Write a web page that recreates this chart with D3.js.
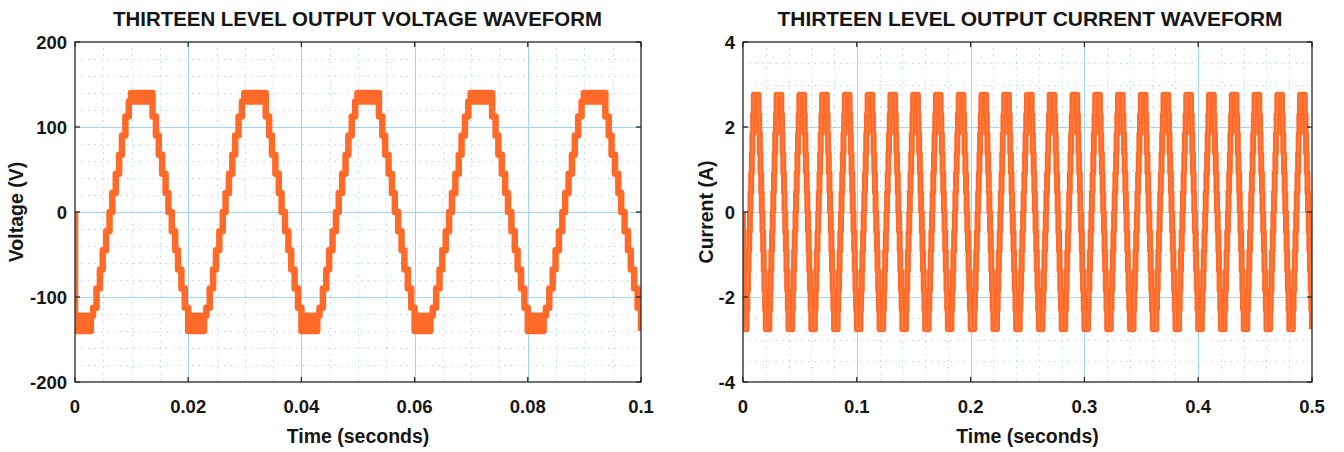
<!DOCTYPE html>
<html>
<head>
<meta charset="utf-8">
<script src="https://cdn.jsdelivr.net/npm/d3@7"></script>
<style>
  html, body { margin: 0; padding: 0; background: #ffffff; }
  svg { display: block; font-family: "Liberation Sans", Arial, Helvetica, sans-serif; }
</style>
</head>
<body>
<svg id="chart" width="1344" height="452"></svg>
<script>
// ---------------- DATA ----------------
// Voltage panel
const voltTitle = "THIRTEEN LEVEL OUTPUT VOLTAGE WAVEFORM";
const voltXLabel = "Time (seconds)";
const voltYLabel = "Voltage (V)";
const voltXTicks = [0, 0.02, 0.04, 0.06, 0.08, 0.1];
const voltXTickLabels = ["0", "0.02", "0.04", "0.06", "0.08", "0.1"];
const voltYTicks = [-200, -100, 0, 100, 200];
const voltYTickLabels = ["-200", "-100", "0", "100", "200"];
const voltXMinor = [0.005, 0.01, 0.015, 0.025, 0.03, 0.035, 0.045, 0.05, 0.055, 0.065, 0.07, 0.075, 0.085, 0.09, 0.095];
const voltYMinor = [-180, -160, -140, -120, -80, -60, -40, -20, 20, 40, 60, 80, 120, 140, 160, 180];
// start time of each 50 Hz cycle shown
const voltCycleStarts = [0, 0.02, 0.04, 0.06, 0.08];
// one cycle of the 13-level staircase: step start time (s, offset inside cycle) and level (V)
const voltStepTime = [0.0000, 0.0004, 0.0008, 0.0012, 0.0016, 0.0020, 0.0024, 0.0028,
  0.0032, 0.0038, 0.0044, 0.0049, 0.0055, 0.0061, 0.0066, 0.0072, 0.0078, 0.0083, 0.0089,
  0.0095, 0.0099, 0.0103, 0.0107, 0.0111, 0.0115, 0.0119, 0.0123, 0.0127, 0.0131,
  0.0137, 0.0143, 0.0148, 0.0154, 0.0160, 0.0165, 0.0171, 0.0177, 0.0182, 0.0188, 0.0194];
const voltStepValue = [-140, -122, -140, -122, -140, -122, -140, -122,
  -112.5, -90, -67.5, -45, -22.5, 0, 22.5, 45, 67.5, 90, 112.5,
  130, 140, 130, 140, 130, 140, 130, 140, 130, 140,
  112.5, 90, 67.5, 45, 22.5, 0, -22.5, -45, -67.5, -90, -112.5];
const voltStart = [0, 0];       // trace begins at (0 s, 0 V)
const voltEnd = [0.1, -140];    // trace ends at (0.1 s, -140 V)

// Current panel
const currTitle = "THIRTEEN LEVEL OUTPUT CURRENT WAVEFORM";
const currXLabel = "Time (seconds)";
const currYLabel = "Current (A)";
const currXTicks = [0, 0.1, 0.2, 0.3, 0.4, 0.5];
const currXTickLabels = ["0", "0.1", "0.2", "0.3", "0.4", "0.5"];
const currYTicks = [-4, -2, 0, 2, 4];
const currYTickLabels = ["-4", "-2", "0", "2", "4"];
const currXMinor = [0.02, 0.04, 0.06, 0.08, 0.12, 0.14, 0.16, 0.18, 0.22, 0.24, 0.26, 0.28,
  0.32, 0.34, 0.36, 0.38, 0.42, 0.44, 0.46, 0.48];
const currYMinor = [-3.5, -3, -2.5, -1.5, -1, -0.5, 0.5, 1, 1.5, 2.5, 3, 3.5];
const currCycleStarts = [0, 0.02, 0.04, 0.06, 0.08, 0.10, 0.12, 0.14, 0.16, 0.18,
  0.20, 0.22, 0.24, 0.26, 0.28, 0.30, 0.32, 0.34, 0.36, 0.38,
  0.40, 0.42, 0.44, 0.46, 0.48];
const currStepTime = [0.0000,
  0.0032, 0.0038, 0.0044, 0.0049, 0.0055, 0.0061, 0.0066, 0.0072, 0.0078, 0.0083, 0.0089,
  0.0095,
  0.0137, 0.0143, 0.0148, 0.0154, 0.0160, 0.0165, 0.0171, 0.0177, 0.0182, 0.0188, 0.0194];
const currStepValue = [-2.76,
  -2.3, -1.84, -1.38, -0.92, -0.46, 0, 0.46, 0.92, 1.38, 1.84, 2.3,
  2.76,
  2.3, 1.84, 1.38, 0.92, 0.46, 0, -0.46, -0.92, -1.38, -1.84, -2.3];
const currStart = [0, 0];
const currEnd = [0.5, -2.76];

// ---------------- DRAWING ----------------
const svg = d3.select("#chart");
const orange = "#ff6a28";
const textColor = "#161616";

function buildTrace(start, cycles, stepT, stepV, end) {
  const pts = [{t: start[0], v: start[1]}];
  cycles.forEach(c => {
    stepT.forEach((dt, i) => pts.push({t: c + dt, v: stepV[i]}));
  });
  pts.push({t: end[0], v: end[1]});
  return pts;
}

function panel(cfg, id) {
  const x = d3.scaleLinear().domain(cfg.xDomain).range(cfg.xRange);
  const y = d3.scaleLinear().domain(cfg.yDomain).range(cfg.yRange);
  const [x0, x1] = cfg.xRange, [y0, y1] = cfg.yRange; // y0 bottom, y1 top
  const g = svg.append("g");

  g.append("rect").attr("x", x0).attr("y", y1).attr("width", x1 - x0).attr("height", y0 - y1)
    .attr("fill", "#ffffff");

  // minor grid (dotted)
  const minor = g.append("g").attr("stroke", "#9fd0f6").attr("stroke-width", 1)
    .attr("stroke-dasharray", "1.2,5.3");
  minor.selectAll("line.mx").data(cfg.xMinor).join("line")
    .attr("x1", d => Math.round(x(d)) + 0.5).attr("x2", d => Math.round(x(d)) + 0.5)
    .attr("y1", y1).attr("y2", y0);
  minor.selectAll("line.my").data(cfg.yMinor).join("line")
    .attr("y1", d => Math.round(y(d)) + 0.5).attr("y2", d => Math.round(y(d)) + 0.5)
    .attr("x1", x0).attr("x2", x1);

  // major grid
  const major = g.append("g").attr("stroke", "#a3d3f7").attr("stroke-width", 1);
  major.selectAll("line.gx").data(cfg.xTicks.slice(1, -1)).join("line")
    .attr("x1", d => Math.round(x(d)) + 0.5).attr("x2", d => Math.round(x(d)) + 0.5)
    .attr("y1", y1).attr("y2", y0);
  major.selectAll("line.gy").data(cfg.yTicks.slice(1, -1)).join("line")
    .attr("y1", d => Math.round(y(d)) + 0.5).attr("y2", d => Math.round(y(d)) + 0.5)
    .attr("x1", x0).attr("x2", x1);

  // trace
  svg.append("clipPath").attr("id", id).append("rect")
    .attr("x", x0).attr("y", y1).attr("width", x1 - x0).attr("height", y0 - y1);
  const line = d3.line().x(d => x(d.t)).y(d => y(d.v)).curve(d3.curveStepAfter);
  const tg = g.append("g").attr("clip-path", `url(#${id})`);
  tg.append("path").datum(cfg.trace).attr("d", line)
    .attr("fill", "none").attr("stroke", orange).attr("stroke-width", cfg.lw)
    .attr("stroke-linejoin", "round").attr("stroke-linecap", "butt");
  if (cfg.inner) {
    tg.append("path").datum(cfg.trace).attr("d", line)
      .attr("fill", "none").attr("stroke", "#ffa070").attr("stroke-width", 1)
      .attr("stroke-opacity", 0.5);
  }

  // box + ticks
  const axG = g.append("g").attr("stroke", "#262626").attr("stroke-width", 1.3).attr("fill", "none");
  axG.append("rect").attr("x", x0).attr("y", y1).attr("width", x1 - x0).attr("height", y0 - y1);
  const tl = 5;
  cfg.xTicks.forEach(d => {
    const px = x(d);
    axG.append("line").attr("x1", px).attr("x2", px).attr("y1", y0).attr("y2", y0 - tl);
    axG.append("line").attr("x1", px).attr("x2", px).attr("y1", y1).attr("y2", y1 + tl);
  });
  cfg.yTicks.forEach(d => {
    const py = y(d);
    axG.append("line").attr("x1", x0).attr("x2", x0 + tl).attr("y1", py).attr("y2", py);
    axG.append("line").attr("x1", x1).attr("x2", x1 - tl).attr("y1", py).attr("y2", py);
  });

  // tick labels
  const txt = g.append("g").attr("fill", textColor).attr("font-weight", "bold");
  txt.selectAll("text.xl").data(cfg.xTicks).join("text")
    .attr("x", d => x(d)).attr("y", y0 + 31).attr("text-anchor", "middle")
    .attr("font-size", 18.5).text((d, i) => cfg.xTickLabels[i]);
  txt.selectAll("text.yl").data(cfg.yTicks).join("text")
    .attr("x", x0 - 8).attr("y", d => y(d) + 6.5).attr("text-anchor", "end")
    .attr("font-size", 18.5).text((d, i) => cfg.yTickLabels[i]);

  // axis labels
  txt.append("text").attr("x", (x0 + x1) / 2).attr("y", 443).attr("text-anchor", "middle")
    .attr("font-size", 19.5).text(cfg.xLabel);
  txt.append("text").attr("transform", `translate(${cfg.yLabelX},${(y0 + y1) / 2}) rotate(-90)`)
    .attr("text-anchor", "middle").attr("font-size", 19.5).text(cfg.yLabel);
  // title
  txt.append("text").attr("x", cfg.titleX).attr("y", 26).attr("text-anchor", "middle")
    .attr("font-size", 19.5).attr("textLength", cfg.titleW).attr("lengthAdjust", "spacingAndGlyphs")
    .text(cfg.title);
}

panel({
  xDomain: [0, 0.1], yDomain: [-200, 200], xRange: [75, 641], yRange: [382, 42],
  xTicks: voltXTicks, xTickLabels: voltXTickLabels, yTicks: voltYTicks, yTickLabels: voltYTickLabels,
  xMinor: voltXMinor, yMinor: voltYMinor,
  trace: buildTrace(voltStart, voltCycleStarts, voltStepTime, voltStepValue, voltEnd),
  lw: 6.5, inner: false,
  xLabel: voltXLabel, yLabel: voltYLabel, yLabelX: 23, title: voltTitle, titleX: 357.5, titleW: 489
}, "clipV");

panel({
  xDomain: [0, 0.5], yDomain: [-4, 4], xRange: [743, 1312], yRange: [382, 42],
  xTicks: currXTicks, xTickLabels: currXTickLabels, yTicks: currYTicks, yTickLabels: currYTickLabels,
  xMinor: currXMinor, yMinor: currYMinor,
  trace: buildTrace(currStart, currCycleStarts, currStepTime, currStepValue, currEnd),
  lw: 6, inner: true,
  xLabel: currXLabel, yLabel: currYLabel, yLabelX: 713, title: currTitle, titleX: 1030, titleW: 505
}, "clipI");
</script>
</body>
</html>
